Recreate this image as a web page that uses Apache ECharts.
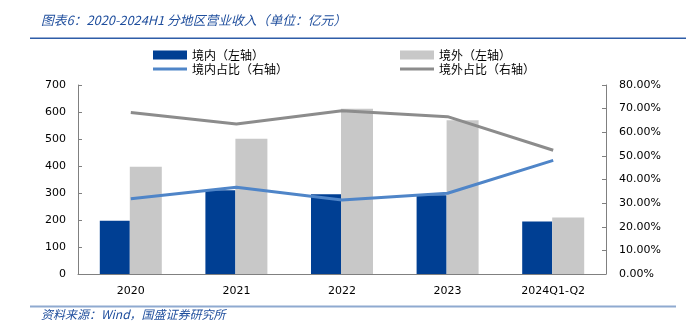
<!DOCTYPE html>
<html><head><meta charset="utf-8">
<script src="https://cdn.jsdelivr.net/npm/echarts@6/dist/echarts.min.js"></script>
<style>html,body{margin:0;padding:0;background:#fff}#c{width:686px;height:336px}</style>
</head><body><div id="c"></div>
<script>
const categories = ['2020','2021','2022','2023','2024Q1-Q2'];
const domestic = [197, 310, 295, 292, 194];
const overseas = [397, 501, 612, 569, 209];
const domesticShare = [31.9, 36.7, 31.3, 34.2, 48.1];
const overseasShare = [68.4, 63.5, 69.1, 66.6, 52.4];
const leftTicks = {min:0, max:700, interval:100};
const rightTicks = {min:0, max:80, interval:10};
const names = ['境内（左轴）','境外（左轴）','境内占比（右轴）','境外占比（右轴）'];

const C_IN='#003F93', C_OUT='#C8C8C8', C_INL='#4F85C8', C_OUTL='#8C8C8C';
const axisFont = {fontFamily:'DejaVu Sans', fontSize:11, color:'#000'};
const legFont = {fontFamily:'Noto Sans CJK SC', fontSize:12, color:'#000'};
function leg(name, left, top, icon, h){
  return {data:[name], left:left, top:top, icon:icon, itemWidth:34, itemHeight:h, itemGap:0,
    textStyle:legFont, padding:0, selectedMode:false};
}
const chart = echarts.init(document.getElementById('c'), null, {renderer:'canvas'});
chart.setOption({
  animation:false,
  grid:{left:78, right:80, top:85, bottom:62},
  legend:[
    leg(names[0],153,49,'rect',9),
    leg(names[1],400,49,'rect',9),
    leg(names[2],153,63,'rect',3),
    leg(names[3],400,63,'rect',3)
  ],
  xAxis:{type:'category', data:categories,
    axisLine:{lineStyle:{color:'#808080'}},
    axisTick:{inside:true, length:4, lineStyle:{color:'#808080'}},
    axisLabel:Object.assign({margin:12}, axisFont)},
  yAxis:[
    {type:'value', min:leftTicks.min, max:leftTicks.max, interval:leftTicks.interval,
     axisLine:{show:true, lineStyle:{color:'#808080'}},
     axisTick:{show:true, inside:true, length:4, lineStyle:{color:'#808080'}},
     splitLine:{show:false}, axisLabel:Object.assign({margin:12}, axisFont)},
    {type:'value', min:rightTicks.min, max:rightTicks.max, interval:rightTicks.interval,
     axisLine:{show:true, lineStyle:{color:'#808080'}},
     axisTick:{show:true, inside:true, length:4, lineStyle:{color:'#808080'}},
     splitLine:{show:false},
     axisLabel:Object.assign({margin:13, formatter:v=>v.toFixed(2)+'%'}, axisFont)}
  ],
  series:[
    {name:names[0], type:'bar', data:domestic, barWidth:30, barGap:'0%', itemStyle:{color:C_IN}},
    {name:names[1], type:'bar', data:overseas, barWidth:32, barGap:'0%', itemStyle:{color:C_OUT}},
    {name:names[2], type:'line', yAxisIndex:1, data:domesticShare, symbol:'none',
     lineStyle:{width:3, color:C_INL}, itemStyle:{color:C_INL}},
    {name:names[3], type:'line', yAxisIndex:1, data:overseasShare, symbol:'none',
     lineStyle:{width:3, color:C_OUTL}, itemStyle:{color:C_OUTL}}
  ],
  graphic:[
    {type:'text', left:41, top:14, style:{text:'图表6：2020-2024H1 分地区营业收入（单位：亿元）',
      font:'italic 12.8px "Noto Sans CJK SC"', fill:'#1F4E9D'}},
    {type:'rect', shape:{x:30, y:37.5, width:656, height:1.5}, style:{fill:'#2E5DA8'}},
    {type:'rect', shape:{x:30, y:305.5, width:646, height:2}, style:{fill:'#8FAAD0'}},
    {type:'text', left:41, top:308, style:{text:'资料来源：Wind，国盛证券研究所',
      font:'italic 12px "Noto Sans CJK SC"', fill:'#1F4E9D'}}
  ]
});
</script></body></html>
